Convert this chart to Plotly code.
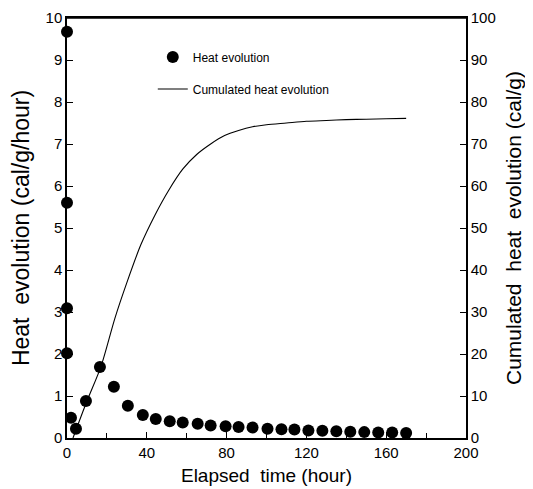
import plotly.graph_objects as go

# Heat evolution rate (cal/g/hour) vs elapsed time (hour)
rate_time = [0, 0, 0, 0, 2, 0, 4.5, 9.5, 16.5, 23.5, 30.5, 38, 44.5, 51.5, 58, 65.5, 72, 79.5, 86,
             93, 100.5, 107.5, 114, 121, 128, 135, 142, 149, 156, 163, 170]
rate_vals = [9.67, 5.6, 3.09, 2.02, 0.48, -0.14, 0.22, 0.88, 1.69, 1.22, 0.77, 0.55, 0.45, 0.40, 0.37,
             0.34, 0.30, 0.28, 0.26, 0.25, 0.22, 0.21, 0.20, 0.18, 0.17, 0.16, 0.15, 0.14, 0.13, 0.13, 0.12]

# Cumulated heat evolution (cal/g)
cum_time = [3, 10, 17, 24, 30, 37, 44, 51, 58, 65, 72, 79, 86, 93, 100, 110, 120, 130, 140, 150, 160, 170]
cum_vals = [0, 8.8, 17, 28.5, 37, 46, 53, 59, 64, 67.5, 70, 72, 73.2, 74.1, 74.6, 75.0, 75.4, 75.6,
            75.8, 75.9, 76.0, 76.1]

x_ticks = [0, 40, 80, 120, 160, 200]
y_ticks = list(range(0, 11))
y2_ticks = list(range(0, 101, 10))

FONT = "Arial, Liberation Sans, sans-serif"

fig = go.Figure()
fig.add_trace(go.Scatter(
    x=rate_time, y=rate_vals, mode="markers", name="Heat evolution",
    marker=dict(color="black", size=12), legend="legend", cliponaxis=False))
fig.add_trace(go.Scatter(
    x=cum_time, y=cum_vals, yaxis="y2", mode="lines", name="Cumulated heat evolution",
    line=dict(color="black", width=1.1, shape="spline", smoothing=0.8),
    legend="legend2", cliponaxis=False))

axis_common = dict(showgrid=False, zeroline=False, showline=True, linecolor="black", linewidth=1.5,
                   ticks="inside", ticklen=6, tickcolor="black", tickwidth=1.2, automargin=False,
                   ticklabeloverflow="allow",
                   tickfont=dict(family=FONT, size=15, color="black"))

fig.update_layout(
    width=525, height=482,
    margin=dict(l=59, r=67, t=10, b=52),
    paper_bgcolor="white", plot_bgcolor="white",
    font=dict(family=FONT, color="black"),
    showlegend=True,
    xaxis=dict(range=[0, 200], tickvals=x_ticks, mirror=True,
               minor=dict(ticks="inside", ticklen=5, dtick=20, tickcolor="black"),
               title=dict(text="Elapsed  time (hour)", font=dict(size=19), standoff=9),
               **axis_common),
    yaxis=dict(range=[0, 10], tickvals=y_ticks,
               title=dict(text="Heat  evolution (cal/g/hour)", font=dict(size=23), standoff=14),
               **axis_common),
    yaxis2=dict(range=[0, 100], tickvals=y2_ticks, overlaying="y", side="right",
                title=dict(text="Cumulated  heat  evolution (cal/g)", font=dict(size=21), standoff=12),
                **axis_common),
    legend=dict(x=0.215, y=0.907, xanchor="left", yanchor="middle", bgcolor="rgba(0,0,0,0)",
                font=dict(size=12, family=FONT), visible=True),
    legend2=dict(x=0.215, y=0.831, xanchor="left", yanchor="middle", bgcolor="rgba(0,0,0,0)",
                 font=dict(size=12, family=FONT), visible=True),
)
# top frame edge of the plot area (paper-referenced, not clipped)
fig.add_shape(type="line", xref="paper", yref="paper", x0=0, x1=1, y0=1, y1=1,
              line=dict(color="black", width=1.5), layer="above")

fig.write_html("out.html")
